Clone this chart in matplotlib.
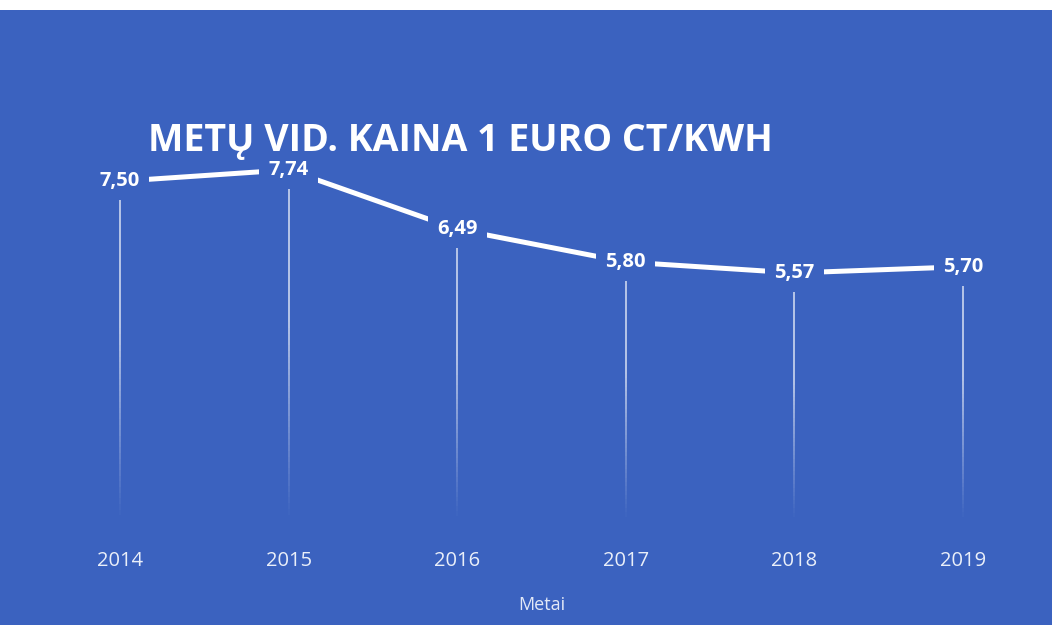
import matplotlib
matplotlib.use("Agg")
import matplotlib.pyplot as plt
import numpy as np
from matplotlib.patches import Rectangle
from matplotlib.collections import LineCollection

years = ["2014", "2015", "2016", "2017", "2018", "2019"]
values = [7.50, 7.74, 6.49, 5.80, 5.57, 5.70]
value_labels = ["7,50", "7,74", "6,49", "5,80", "5,57", "5,70"]
title = "METŲ VID. KAINA 1 EURO CT/KWH"
xlabel = "Metai"

BG = "#3b62bf"
W, H = 1063, 625
fig = plt.figure(figsize=(W / 100, H / 100), dpi=100, facecolor=BG)
# white scanner margins (top and right)
fig.patches.append(Rectangle((0, (H - 10) / H), 1, 10 / H, transform=fig.transFigure,
                             facecolor="white", edgecolor="none", zorder=5))
fig.patches.append(Rectangle((1052 / W, 0), 11 / W, 1, transform=fig.transFigure,
                             facecolor="white", edgecolor="none", zorder=5))

left_px, right_px = 35.7, 1047.3
zero_px, unit_px = 537.5, 47.5
ymax = 9.0
ax = fig.add_axes([left_px / W, (H - zero_px) / H, (right_px - left_px) / W, ymax * unit_px / H])
ax.set_facecolor("none")
x = np.arange(len(years))
ax.set_xlim(-0.5, len(years) - 0.5)
ax.set_ylim(0, ymax)

# fading drop lines
for xi, v in zip(x, values):
    n = 60
    ys = np.linspace(0.35, v, n + 1)
    segs = [[(xi, ys[i]), (xi, ys[i + 1])] for i in range(n)]
    alphas = np.clip(np.linspace(0.0, 1.4, n), 0, 0.8)
    cols = [(1, 1, 1, a) for a in alphas]
    ax.add_collection(LineCollection(segs, colors=cols, linewidths=1.1, zorder=2))

ax.plot(x, values, color="white", lw=3.6, solid_capstyle="butt", zorder=3)

for xi, v, lab in zip(x, values, value_labels):
    ax.text(xi, v, lab, ha="center", va="center", color="white", fontsize=14.5,
            fontweight="bold", family="Open Sans", zorder=4,
            bbox=dict(boxstyle="square,pad=0.45", facecolor=BG, edgecolor="none"))

ax.set_xticks(x)
ax.set_xticklabels(years, color="#eaeff9", fontsize=14.5, family="Open Sans")
ax.tick_params(axis="x", length=0, pad=10)
ax.set_yticks([])
for s in ax.spines.values():
    s.set_visible(False)
ax.set_xlabel(xlabel, color="#e3e9f7", fontsize=13, family="Open Sans", labelpad=17.5)

fig.text(460 / W, 1 - 141 / H, title, ha="center", va="center", color="white",
         fontsize=27, fontweight="bold", family="Open Sans")

fig.savefig("out.png", dpi=100, facecolor=fig.get_facecolor())
